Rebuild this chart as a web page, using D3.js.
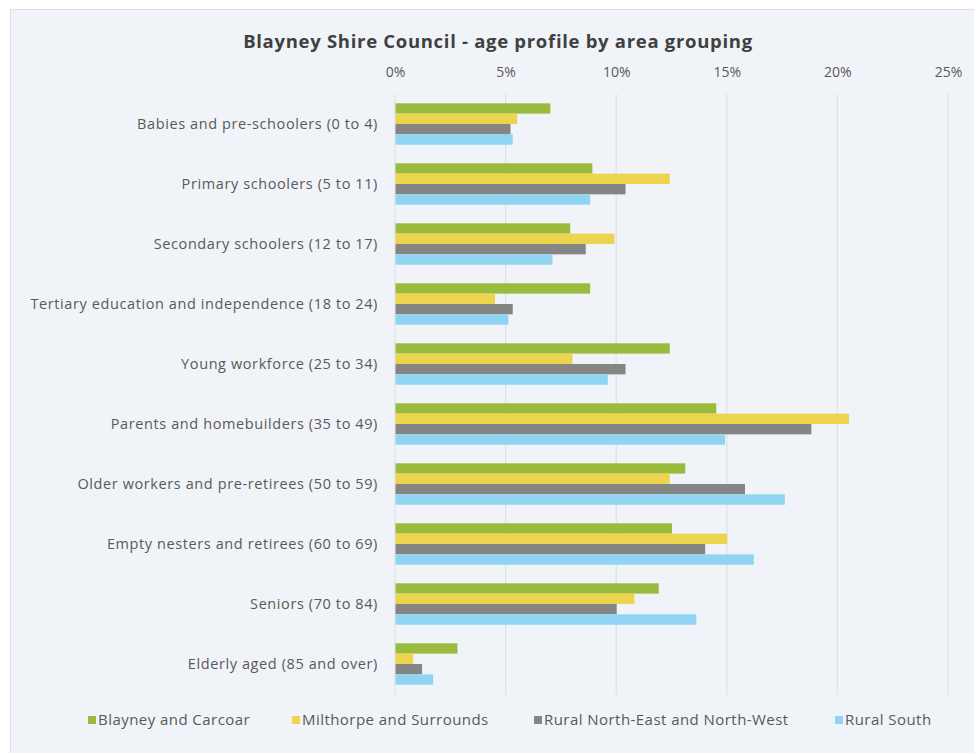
<!DOCTYPE html>
<html>
<head>
<meta charset="utf-8">
<script src="https://cdn.jsdelivr.net/npm/d3@7"></script>
<style>
  body { margin: 0; background: #fff; }
  svg { display: block; }
  svg text { font-family: "Open Sans", "Noto Sans", sans-serif; }
</style>
</head>
<body>
<div class="container"></div>
<script>
const categories = [
  "Babies and pre-schoolers (0 to 4)",
  "Primary schoolers (5 to 11)",
  "Secondary schoolers (12 to 17)",
  "Tertiary education and independence (18 to 24)",
  "Young workforce (25 to 34)",
  "Parents and homebuilders (35 to 49)",
  "Older workers and pre-retirees (50 to 59)",
  "Empty nesters and retirees (60 to 69)",
  "Seniors (70 to 84)",
  "Elderly aged (85 and over)",
];

const seriesNames = [
  "Blayney and Carcoar",
  "Milthorpe and Surrounds",
  "Rural North-East and North-West",
  "Rural South",
];

// percentages, one array per series, same order as categories
const blayneyCarcoar = [7.0, 8.9, 7.9, 8.8, 12.4, 14.5, 13.1, 12.5, 11.9, 2.8];
const milthorpe = [5.5, 12.4, 9.9, 4.5, 8.0, 20.5, 12.4, 15.0, 10.8, 0.8];
const ruralNorth = [5.2, 10.4, 8.6, 5.3, 10.4, 18.8, 15.8, 14.0, 10.0, 1.2];
const ruralSouth = [5.3, 8.8, 7.1, 5.1, 9.6, 14.9, 17.6, 16.2, 13.6, 1.7];

const xTicks = [0, 5, 10, 15, 20, 25];

const colors = ["#9bbb3c", "#edd44f", "#858585", "#8fd5f3"];

const allSeries = [blayneyCarcoar, milthorpe, ruralNorth, ruralSouth];

const width = 974;
const height = 753;
const margin = { top: 94, right: 26, bottom: 59, left: 395 };

const svg = d3
  .select(".container")
  .append("svg")
  .attr("width", width)
  .attr("height", height);

// chart area box
svg
  .append("rect")
  .attr("x", 10.5)
  .attr("y", 9.5)
  .attr("width", width)
  .attr("height", height)
  .attr("fill", "#f0f4f8")
  .attr("stroke", "#d9dfe6");

// title
svg
  .append("text")
  .attr("x", 498)
  .attr("y", 48)
  .attr("text-anchor", "middle")
  .attr("font-size", 18.5)
  .attr("letter-spacing", 0.7)
  .attr("font-weight", "bold")
  .attr("fill", "#404040")
  .text("Blayney Shire Council - age profile by area grouping");

// scales
const xScale = d3
  .scaleLinear()
  .domain([0, 25])
  .range([margin.left, width - margin.right]);

const yScale = d3
  .scaleBand()
  .domain(categories)
  .range([margin.top, height - margin.bottom])
  .paddingInner(0.31)
  .paddingOuter(0.155);

const ySub = d3
  .scaleBand()
  .domain(d3.range(seriesNames.length))
  .range([0, yScale.bandwidth()]);

// gridlines
svg
  .append("g")
  .selectAll("line")
  .data(xTicks)
  .enter()
  .append("line")
  .attr("x1", (d) => xScale(d))
  .attr("x2", (d) => xScale(d))
  .attr("y1", margin.top)
  .attr("y2", height - margin.bottom + 1)
  .attr("stroke", "#dce2e8")
  .attr("stroke-width", 1.2);

// top axis
const xAxis = d3
  .axisTop(xScale)
  .tickValues(xTicks)
  .tickSize(0)
  .tickPadding(17)
  .tickFormat((d) => d + "%");

const xAxisG = svg
  .append("g")
  .attr("transform", "translate(0," + margin.top + ")")
  .call(xAxis)
  .attr("font-family", null)
  .attr("font-size", 14);
xAxisG.select(".domain").remove();
xAxisG.selectAll("text").attr("fill", "#595959");

// left axis labels
const yAxis = d3.axisLeft(yScale).tickSize(0).tickPadding(17);
const yAxisG = svg
  .append("g")
  .attr("transform", "translate(" + margin.left + ",0)")
  .call(yAxis)
  .attr("font-family", null)
  .attr("font-size", 14.5)
  .attr("letter-spacing", 0.6);
yAxisG.select(".domain").remove();
yAxisG.selectAll("text").attr("fill", "#595959");

// bars
const groups = svg
  .append("g")
  .selectAll("g")
  .data(categories)
  .enter()
  .append("g")
  .attr("transform", (d) => "translate(0," + yScale(d) + ")");

groups
  .selectAll("rect")
  .data((d, i) => allSeries.map((s, j) => ({ series: j, value: s[i] })))
  .enter()
  .append("rect")
  .attr("x", xScale(0) + 0.5)
  .attr("y", (d) => ySub(d.series))
  .attr("width", (d) => xScale(d.value) - xScale(0))
  .attr("height", ySub.bandwidth())
  .attr("fill", (d) => colors[d.series]);

// legend
const legendX = [88, 292, 534, 835];
const legend = svg
  .append("g")
  .selectAll("g")
  .data(seriesNames)
  .enter()
  .append("g")
  .attr("transform", (d, i) => "translate(" + legendX[i] + ",720)");

legend
  .append("rect")
  .attr("x", 0)
  .attr("y", -4)
  .attr("width", 8)
  .attr("height", 8)
  .attr("fill", (d, i) => colors[i]);

legend
  .append("text")
  .attr("x", 10)
  .attr("y", 0)
  .attr("dy", "0.35em")
  .attr("font-size", 15)
  .attr("letter-spacing", 0.45)
  .attr("fill", "#595959")
  .text((d) => d);
</script>
</body>
</html>
